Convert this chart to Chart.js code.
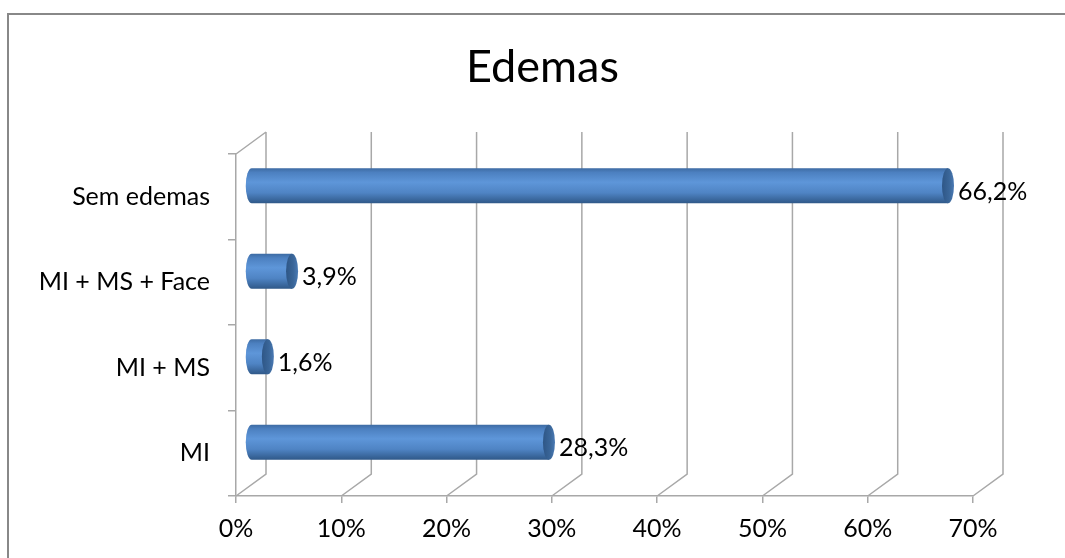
<!DOCTYPE html>
<html>
<head>
<meta charset="utf-8">
<script src="https://cdn.jsdelivr.net/npm/chart.js@4.4.1/dist/chart.umd.min.js"></script>
<style>
  body { margin: 0; background: #fff; }
  canvas { display: block; }
</style>
</head>
<body>
<canvas id="edemas" width="1065" height="558"></canvas>
<script>
let categorias = ["Sem edemas", "MI + MS + Face", "MI + MS", "MI"];
let valores = [66.2, 3.9, 1.6, 28.3];
let rotulosX = ["0%", "10%", "20%", "30%", "40%", "50%", "60%", "70%"];

let fonte = "Lato, 'Open Sans', sans-serif";
let corGrade = "#a8a8a8";
let prof = { dx: 30, dy: -22 }; // depth of the 3d box

function virgula(v){
  return v.toFixed(1).replace(".", ",") + "%";
}

// outer frame of the chart
let moldura = {
  id: "moldura",
  beforeDraw(chart){
    let ctx = chart.ctx;
    ctx.save();
    ctx.strokeStyle = "#888888";
    ctx.lineWidth = 2;
    ctx.beginPath();
    ctx.moveTo(8, chart.height + 2);
    ctx.lineTo(8, 14);
    ctx.lineTo(chart.width + 2, 14);
    ctx.stroke();
    ctx.restore();
  }
};

// back wall lines and floor diagonals
let grade3d = {
  id: "grade3d",
  beforeDatasetsDraw(chart){
    let ctx = chart.ctx;
    let a = chart.chartArea;
    let x = chart.scales.x;
    ctx.save();
    ctx.strokeStyle = corGrade;
    ctx.lineWidth = 1.5;
    ctx.beginPath();
    for (let t of x.ticks){
      let px = x.getPixelForValue(t.value);
      ctx.moveTo(px, a.bottom);
      ctx.lineTo(px + prof.dx, a.bottom + prof.dy);
      ctx.lineTo(px + prof.dx, a.top + prof.dy);
    }
    ctx.moveTo(a.left, a.top);
    ctx.lineTo(a.left + prof.dx, a.top + prof.dy);
    ctx.stroke();
    ctx.restore();
  }
};

// cylinders sitting half way into the box, plus value labels
let cilindros = {
  id: "cilindros",
  afterDatasetsDraw(chart){
    let ctx = chart.ctx;
    let meta = chart.getDatasetMeta(0);
    let sx = prof.dx / 2, sy = prof.dy / 2;
    ctx.save();
    meta.data.forEach((bar, i) => {
      let h = bar.height;
      let ini = bar.base + sx;
      let fim = bar.x + sx;
      let cy = bar.y + sy;
      let topo = cy - h / 2;
      let rx = 6;

      let g = ctx.createLinearGradient(0, topo, 0, topo + h);
      g.addColorStop(0, "#3d6ba3");
      g.addColorStop(0.12, "#4c80c0");
      g.addColorStop(0.4, "#5e96d9");
      g.addColorStop(0.7, "#4f84c4");
      g.addColorStop(1, "#2f5888");

      ctx.fillStyle = g;
      ctx.beginPath();
      ctx.moveTo(fim, topo);
      ctx.lineTo(ini, topo);
      ctx.ellipse(ini, cy, rx, h / 2, 0, -Math.PI / 2, Math.PI / 2, true);
      ctx.lineTo(fim, topo + h);
      ctx.closePath();
      ctx.fill();

      let gc = ctx.createLinearGradient(fim - rx, 0, fim + rx, 0);
      gc.addColorStop(0, "#2e5686");
      gc.addColorStop(0.6, "#3a6699");
      gc.addColorStop(1, "#4a7ab4");
      ctx.fillStyle = gc;
      ctx.beginPath();
      ctx.ellipse(fim, cy, rx, h / 2, 0, 0, Math.PI * 2);
      ctx.fill();

      ctx.fillStyle = "#000";
      ctx.font = "25px " + fonte;
      ctx.textAlign = "left";
      ctx.textBaseline = "middle";
      ctx.fillText(virgula(valores[i]), fim + 10, cy + 6);
    });
    ctx.restore();
  }
};

new Chart(document.getElementById("edemas"), {
  type: "bar",
  data: {
    labels: categorias,
    datasets: [{
      data: valores,
      backgroundColor: "rgba(0,0,0,0)",
      borderWidth: 0,
      barPercentage: 0.41,
      categoryPercentage: 1
    }]
  },
  options: {
    indexAxis: "y",
    responsive: false,
    animation: false,
    devicePixelRatio: 1,
    layout: { padding: { left: 20, right: 0, top: 0, bottom: 0 } },
    plugins: {
      legend: { display: false },
      tooltip: { enabled: false },
      title: {
        display: true,
        text: "Edemas",
        color: "#000",
        font: { family: fonte, size: 45, weight: "normal" },
        padding: { top: 40, bottom: 60 }
      }
    },
    scales: {
      x: {
        min: 0,
        max: 70,
        afterFit(s){ s.height = 62; },
        ticks: {
          stepSize: 10,
          color: "#000",
          padding: 11,
          font: { family: fonte, size: 25 },
          callback: (v, i) => rotulosX[i]
        },
        grid: { drawOnChartArea: false, color: corGrade, tickLength: 7, lineWidth: 1.5 },
        border: { color: corGrade, width: 1.5 }
      },
      y: {
        afterFit(s){ s.width = 216; },
        ticks: {
          color: "#000",
          padding: 18,
          font: { family: fonte, size: 25 }
        },
        grid: { drawOnChartArea: false, color: corGrade, tickLength: 8, lineWidth: 1.5 },
        border: { color: corGrade, width: 1.5 }
      },
      // empty strip on the right, room for the value labels
      margem: {
        axis: "y",
        position: "right",
        afterFit(s){ s.width = 92; },
        ticks: { display: false },
        grid: { display: false },
        border: { display: false }
      }
    }
  },
  plugins: [moldura, grade3d, cilindros]
});
</script>
</body>
</html>
